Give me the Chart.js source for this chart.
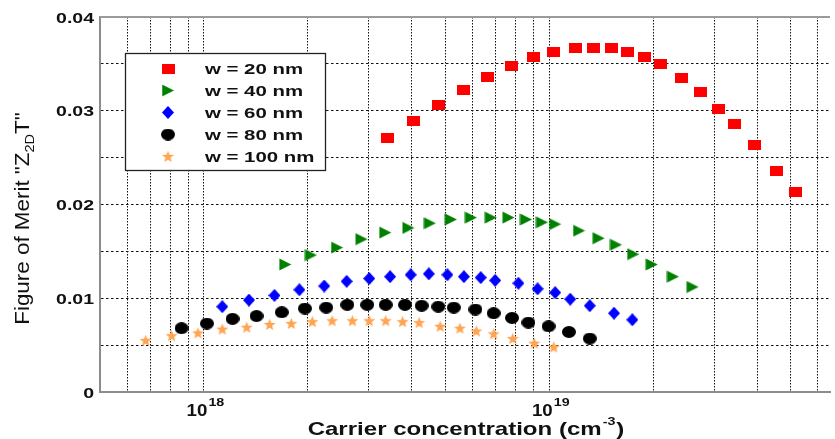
<!DOCTYPE html>
<html>
<head>
<meta charset="utf-8">
<script src="https://cdn.jsdelivr.net/npm/chart.js@4.4.1/dist/chart.umd.min.js"></script>
<style>
  html, body { margin: 0; padding: 0; background: #fff; }
</style>
</head>
<body>
<canvas id="ztChart" width="835" height="439"></canvas>
<script>
"use strict";

// carrier concentration (cm^-3) and Z2D T, one pair of arrays per width
var conc20 = [3.39e18, 4.04e18, 4.78e18, 5.64e18, 6.63e18, 7.75e18, 8.99e18, 1.03e19, 1.19e19, 1.34e19, 1.51e19,
  1.69e19, 1.89e19, 2.10e19, 2.41e19, 2.74e19, 3.10e19, 3.44e19, 3.93e19, 4.56e19, 5.15e19];
var zt20 = [0.0271, 0.0289, 0.0306, 0.0322, 0.0336, 0.0348, 0.0357, 0.0363, 0.0367, 0.0367, 0.0367,
  0.0363, 0.0357, 0.0350, 0.0335, 0.0320, 0.0302, 0.0286, 0.0263, 0.0236, 0.0213];

var conc40 = [1.72e18, 2.04e18, 2.43e18, 2.86e18, 3.35e18, 3.91e18, 4.51e18, 5.19e18, 5.93e18, 6.77e18, 7.62e18,
  8.56e18, 9.52e18, 1.04e19, 1.22e19, 1.39e19, 1.56e19, 1.75e19, 1.98e19, 2.28e19, 2.60e19];
var zt40 = [0.0136, 0.0146, 0.0154, 0.0163, 0.0170, 0.0175, 0.0180, 0.0184, 0.0186, 0.0186, 0.0186,
  0.0184, 0.0181, 0.0179, 0.0172, 0.0164, 0.0157, 0.0147, 0.0136, 0.0123, 0.0112];

var conc60 = [1.13e18, 1.35e18, 1.60e18, 1.89e18, 2.23e18, 2.59e18, 3.01e18, 3.46e18, 3.97e18, 4.48e18, 5.07e18,
  5.66e18, 6.33e18, 6.97e18, 8.14e18, 9.25e18, 1.04e19, 1.15e19, 1.31e19, 1.54e19, 1.74e19];
var zt60 = [0.0091, 0.0098, 0.0103, 0.0109, 0.0113, 0.0118, 0.0121, 0.0123, 0.0125, 0.0126, 0.0125,
  0.0123, 0.0122, 0.0119, 0.0116, 0.0110, 0.0106, 0.0099, 0.0092, 0.0084, 0.0077];

var conc80 = [8.61e17, 1.02e18, 1.21e18, 1.42e18, 1.68e18, 1.96e18, 2.26e18, 2.60e18, 2.97e18, 3.36e18, 3.82e18,
  4.27e18, 4.77e18, 5.29e18, 6.11e18, 6.90e18, 7.80e18, 8.70e18, 9.95e18, 1.14e19, 1.31e19];
var zt80 = [0.0068, 0.0073, 0.0078, 0.0081, 0.0085, 0.0089, 0.0090, 0.0093, 0.0093, 0.0093, 0.0093,
  0.0092, 0.0091, 0.0090, 0.0088, 0.0084, 0.0079, 0.0074, 0.0070, 0.0064, 0.0057];

var conc100 = [6.78e17, 8.06e17, 9.61e17, 1.13e18, 1.33e18, 1.55e18, 1.79e18, 2.06e18, 2.35e18, 2.69e18, 3.01e18,
  3.36e18, 3.76e18, 4.20e18, 4.83e18, 5.51e18, 6.15e18, 6.90e18, 7.84e18, 9.05e18, 1.03e19];
var zt100 = [0.0055, 0.0060, 0.0063, 0.0067, 0.0069, 0.0072, 0.0073, 0.0075, 0.0076, 0.0076, 0.0076,
  0.0076, 0.0075, 0.0074, 0.0070, 0.0068, 0.0065, 0.0062, 0.0057, 0.0052, 0.0048];

var seriesLabels = ["w = 20 nm", "w = 40 nm", "w = 60 nm", "w = 80 nm", "w = 100 nm"];

var xTickValues = [6e17, 7e17, 8e17, 9e17, 1e18, 2e18, 3e18, 4e18, 5e18, 6e18, 7e18, 8e18, 9e18,
  1e19, 2e19, 3e19, 4e19, 5e19, 6e19];
var xLabelValues = [1e18, 1e19];
var xLabelExponents = ["18", "19"];

var yTickValues = [0, 0.005, 0.01, 0.015, 0.02, 0.025, 0.03, 0.035, 0.04];
var yTickLabels = ["0", "", "0.01", "", "0.02", "", "0.03", "", "0.04"];

var FONT = '"Liberation Sans", Arial, sans-serif';
var STRETCH = 1.3;

function makeMarker(w, h, color, draw) {
  var c = document.createElement("canvas");
  c.width = w;
  c.height = h;
  var g = c.getContext("2d");
  g.fillStyle = color;
  g.beginPath();
  draw(g, w, h);
  g.fill();
  return c;
}

var squareMark = makeMarker(13, 10, "#ff0000", function (g, w, h) {
  g.rect(0, 0, w, h);
});
var triangleMark = makeMarker(13, 13, "#008000", function (g, w, h) {
  g.moveTo(0.5, 0.5);
  g.lineTo(w - 0.5, h / 2);
  g.lineTo(0.5, h - 0.5);
  g.closePath();
});
var diamondMark = makeMarker(12, 13, "#0000ff", function (g, w, h) {
  g.moveTo(w / 2, 0);
  g.lineTo(w, h / 2);
  g.lineTo(w / 2, h);
  g.lineTo(0, h / 2);
  g.closePath();
});
var ellipseMark = makeMarker(14, 12, "#000000", function (g, w, h) {
  g.ellipse(w / 2, h / 2, w / 2, h / 2, 0, 0, Math.PI * 2);
});
var starMark = makeMarker(13, 13, "#ffa552", function (g, w, h) {
  for (var k = 0; k < 10; k++) {
    var a = -Math.PI / 2 + (k * Math.PI) / 5;
    var r = k % 2 === 0 ? 6.3 : 2.7;
    var px = w / 2 + r * Math.cos(a);
    var py = h / 2 + 0.5 + r * Math.sin(a);
    if (k === 0) g.moveTo(px, py);
    else g.lineTo(px, py);
  }
  g.closePath();
});

function pairUp(xs, ys) {
  return xs.map(function (x, i) {
    return { x: x, y: ys[i] };
  });
}

// draw text squeezed/stretched horizontally like the original bitmap
function textWidth(ctx, text, font, sx) {
  ctx.font = font;
  return ctx.measureText(text).width * sx;
}
function drawText(ctx, text, x, y, font, sx) {
  ctx.save();
  ctx.font = font;
  ctx.textAlign = "left";
  ctx.textBaseline = "alphabetic";
  ctx.translate(x, y);
  ctx.scale(sx, 1);
  ctx.fillText(text, 0, 0);
  ctx.restore();
}

var textPlugin = {
  id: "paperText",
  afterDraw: function (chart) {
    var ctx = chart.ctx;
    var area = chart.chartArea;
    var xs = chart.scales.x;
    var ys = chart.scales.y;
    ctx.save();
    ctx.fillStyle = "#111";

    // top frame line
    ctx.strokeStyle = "#9a9a9a";
    ctx.lineWidth = 2;
    ctx.beginPath();
    ctx.moveTo(area.left, area.top);
    ctx.lineTo(area.right, area.top);
    ctx.stroke();

    // y tick labels
    var tickFont = "bold 15px " + FONT;
    yTickValues.forEach(function (v, i) {
      var t = yTickLabels[i];
      if (!t) return;
      var py = ys.getPixelForValue(v);
      var w = textWidth(ctx, t, tickFont, STRETCH);
      drawText(ctx, t, area.left - 6 - w, py + 5.5, tickFont, STRETCH);
    });

    // x tick labels 10^n
    var baseFont = "bold 17px " + FONT;
    var supFont = "bold 11px " + FONT;
    xLabelValues.forEach(function (v, i) {
      var px = xs.getPixelForValue(v);
      var w1 = textWidth(ctx, "10", baseFont, 1.1);
      var w2 = textWidth(ctx, xLabelExponents[i], supFont, 1.3);
      var x0 = px - (w1 + w2) / 2 + 1;
      drawText(ctx, "10", x0, 416, baseFont, 1.1);
      drawText(ctx, xLabelExponents[i], x0 + w1 + 1, 405.5, supFont, 1.3);
    });

    // x axis title
    var titleFont = "bold 18.5px " + FONT;
    var titleSup = "bold 11px " + FONT;
    var p1 = "Carrier concentration (cm";
    var p2 = "-3";
    var p3 = ")";
    var a1 = textWidth(ctx, p1, titleFont, STRETCH);
    var a2 = textWidth(ctx, p2, titleSup, STRETCH);
    var a3 = textWidth(ctx, p3, titleFont, STRETCH);
    var tx = (area.left + area.right) / 2 - (a1 + a2 + a3) / 2;
    drawText(ctx, p1, tx, 435, titleFont, STRETCH);
    drawText(ctx, p2, tx + a1 + 1, 425, titleSup, STRETCH);
    drawText(ctx, p3, tx + a1 + a2 + 2, 435, titleFont, STRETCH);

    // y axis title, rotated
    var yFont = "20px " + FONT;
    var ySub = "13px " + FONT;
    var q1 = 'Figure of Merit "Z';
    var q2 = "2D";
    var q3 = 'T"';
    var ys1 = 1.12;
    var b1 = textWidth(ctx, q1, yFont, ys1);
    var b2 = textWidth(ctx, q2, ySub, ys1);
    var b3 = textWidth(ctx, q3, yFont, ys1);
    ctx.save();
    ctx.translate(29, (area.top + area.bottom) / 2 + 14 + (b1 + b2 + b3) / 2);
    ctx.rotate(-Math.PI / 2);
    drawText(ctx, q1, 0, 0, yFont, ys1);
    drawText(ctx, q2, b1, 5, ySub, ys1);
    drawText(ctx, q3, b1 + b2, 0, yFont, ys1);
    ctx.restore();

    // legend box
    var lx = 125, ly = 53, lw = 200, lh = 117;
    ctx.fillStyle = "#ffffff";
    ctx.fillRect(lx, ly, lw, lh);
    ctx.strokeStyle = "#222";
    ctx.lineWidth = 1.3;
    ctx.strokeRect(lx + 0.5, ly + 0.5, lw, lh);
    ctx.fillStyle = "#111";
    var legFont = "bold 15px " + FONT;
    chart.data.datasets.forEach(function (ds, i) {
      var rowY = 68.5 + i * 22;
      var m = ds.pointStyle;
      ctx.drawImage(m, 168 - m.width / 2, rowY - m.height / 2);
      drawText(ctx, ds.label, 205, rowY + 5.5, legFont, 1.36);
    });
    ctx.restore();
  },
};

var ztChart = new Chart(document.getElementById("ztChart").getContext("2d"), {
  type: "scatter",
  data: {
    datasets: [
      { label: seriesLabels[0], data: pairUp(conc20, zt20), pointStyle: squareMark },
      { label: seriesLabels[1], data: pairUp(conc40, zt40), pointStyle: triangleMark },
      { label: seriesLabels[2], data: pairUp(conc60, zt60), pointStyle: diamondMark },
      { label: seriesLabels[3], data: pairUp(conc80, zt80), pointStyle: ellipseMark },
      { label: seriesLabels[4], data: pairUp(conc100, zt100), pointStyle: starMark },
    ],
  },
  options: {
    responsive: false,
    animation: false,
    events: [],
    layout: {
      padding: { left: 100, top: 17, right: 0, bottom: 47 },
    },
    plugins: {
      legend: { display: false },
      tooltip: { enabled: false },
    },
    scales: {
      x: {
        type: "logarithmic",
        min: 5e17,
        max: 6.5e19,
        afterBuildTicks: function (scale) {
          scale.ticks = xTickValues.map(function (v) {
            return { value: v };
          });
        },
        ticks: { display: false },
        grid: { color: "#111", lineWidth: 1, drawTicks: false },
        border: { display: true, color: "#8c8c8c", width: 2, dash: [1.5, 1.5] },
      },
      y: {
        min: 0,
        max: 0.04,
        afterBuildTicks: function (scale) {
          scale.ticks = yTickValues.map(function (v) {
            return { value: v };
          });
        },
        ticks: { display: false },
        grid: {
          drawTicks: false,
          lineWidth: 1,
          color: function (c) {
            var v = c.tick ? c.tick.value : null;
            return v === 0 || v === 0.04 ? "rgba(0,0,0,0)" : "#111";
          },
        },
        border: { display: true, color: "#8c8c8c", width: 2, dash: [2.5, 2.5] },
      },
    },
  },
  plugins: [textPlugin],
});
</script>
</body>
</html>
